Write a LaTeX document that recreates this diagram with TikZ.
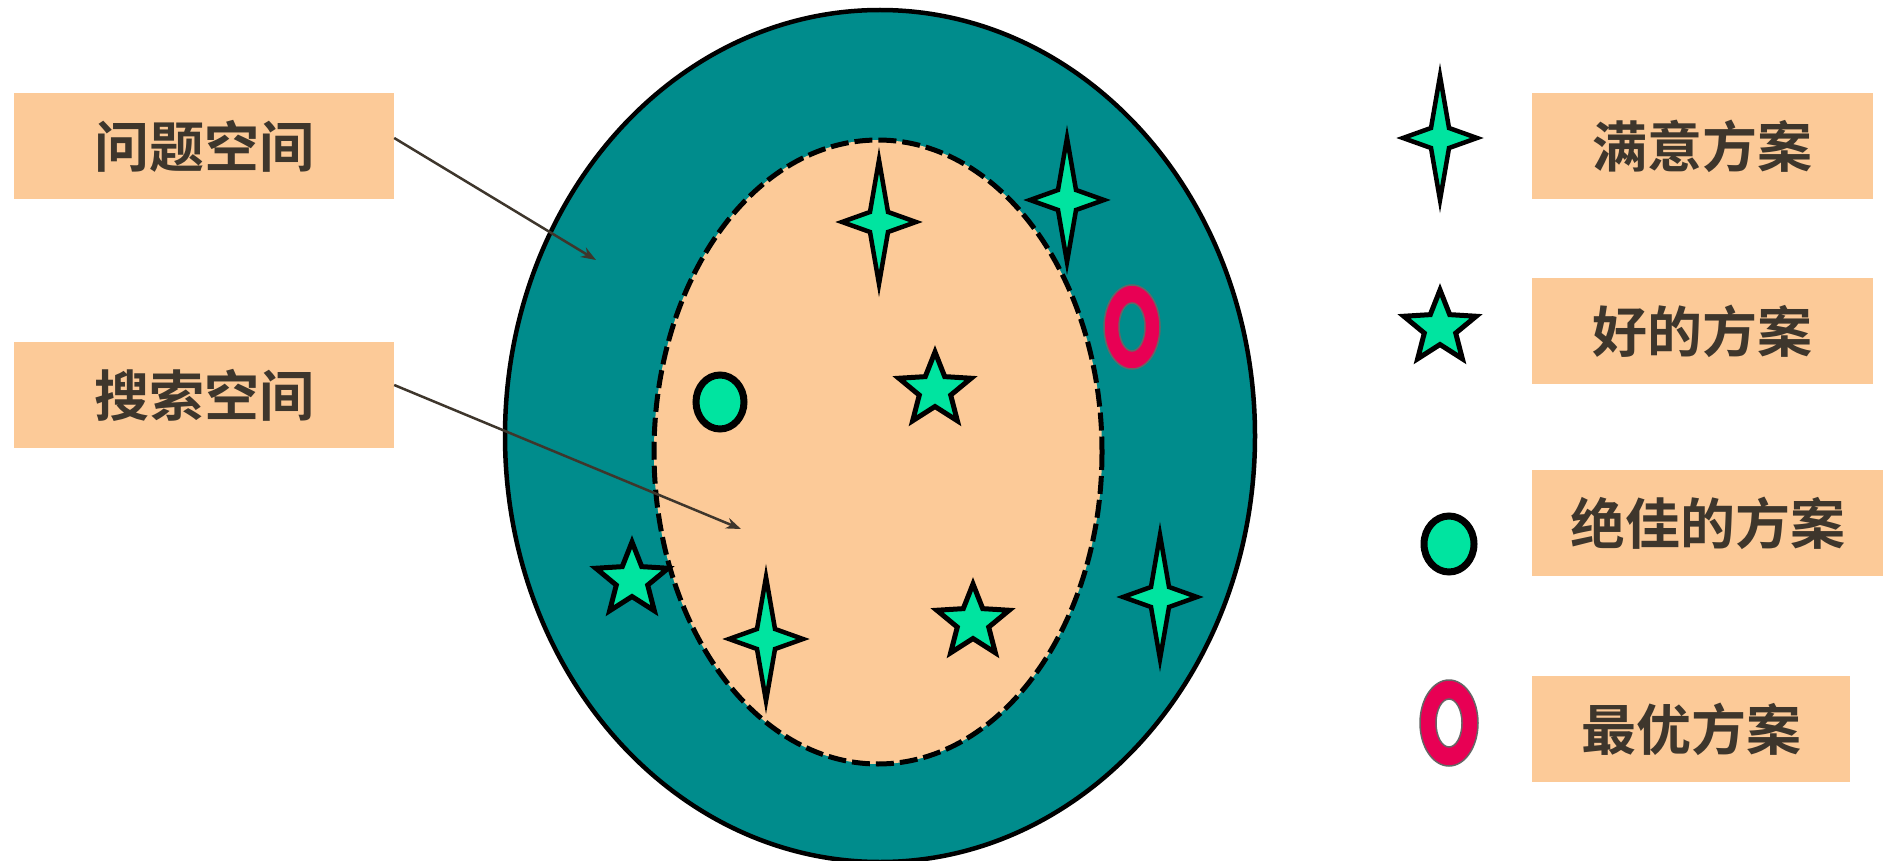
\documentclass[tikz,border=0pt]{standalone}
\usepackage{fontspec}
\newfontfamily\cjk{Noto Sans CJK SC}[BoldFont=* Bold]
\usetikzlibrary{shapes.geometric,arrows.meta}

\definecolor{sarcelle}{RGB}{0,140,140}
\definecolor{peche}{RGB}{252,202,152}
\definecolor{menthe}{RGB}{0,228,160}
\definecolor{cramoisi}{RGB}{232,0,84}
\definecolor{encre}{RGB}{62,54,44}

\tikzset{
  etiquette/.style={fill=peche, text=encre, font=\cjk\bfseries\fontsize{55}{60}\selectfont,
    minimum height=106pt, inner sep=0pt},
  etoile/.style={star, star points=5, star point ratio=2.3, minimum size=76pt,
    inner sep=0pt, fill=menthe, draw=black, line width=5pt},
  scintille/.pic={
    \filldraw[fill=menthe, draw=black, line width=4.5pt]
      (0,-62) -- (9,-10) -- (37,0) -- (9,10) -- (0,62) -- (-9,10) -- (-37,0) -- (-9,-10) -- cycle;
  },
  fleche/.style={->, draw=encre, line width=2.5pt}
}

\begin{document}
\begin{tikzpicture}[x=1pt, y=-1pt, >={Stealth[length=15pt,width=11pt]}]
    \useasboundingbox (0,0) rectangle (1883,861);

    % Espaces
    \coordinate (centre) at (880,436);
    \coordinate (noyau) at (878,452);
    \draw[fill=sarcelle, line width=4.5pt] (centre) ellipse [x radius=375, y radius=426];
    \draw[fill=peche, line width=5pt, dash pattern=on 18pt off 6pt] (noyau) ellipse [x radius=224, y radius=312];

    % Solutions dans le dessin
    \pic at (879,222) {scintille};
    \pic at (1067,200) {scintille};
    \pic at (766,639) {scintille};
    \pic at (1160,597) {scintille};
    \node[etoile] (e1) at (935,390) {};
    \node[etoile] (e2) at (632,580) {};
    \node[etoile] (e3) at (973,622) {};
    \filldraw[fill=menthe, line width=7pt] (720,402) ellipse [x radius=24, y radius=27];
    \filldraw[fill=cramoisi, draw=black!60, line width=1.5pt, even odd rule]
        (1132,327) ellipse [x radius=28, y radius=42] (1132,327) ellipse [x radius=13, y radius=24];

    % Etiquettes de gauche
    \node[etiquette, minimum width=380pt] (probleme) at (204,146) {问题空间};
    \node[etiquette, minimum width=380pt] (recherche) at (204,395) {搜索空间};
    \coordinate (bout1) at (596,260);
    \coordinate (bout2) at (741,529);
    \draw[fleche] ([yshift=8pt]probleme.east) -- (bout1);
    \draw[fleche] ([yshift=10pt]recherche.east) -- (bout2);

    % Legende
    \pic at (1440,138) {scintille};
    \node[etoile] (legetoile) at (1440,328) {};
    \filldraw[fill=menthe, line width=7pt] (1449,544) ellipse [x radius=25, y radius=28];
    \filldraw[fill=cramoisi, draw=black!60, line width=1.5pt, even odd rule]
        (1449,723) ellipse [x radius=29, y radius=43] (1449,723) ellipse [x radius=13, y radius=24];
    \node[etiquette, anchor=west, minimum width=341pt] (satisfait) at (1532,146) {满意方案};
    \node[etiquette, anchor=west, minimum width=341pt] (bon) at (1532,331) {好的方案};
    \node[etiquette, anchor=west, minimum width=351pt] (excellent) at (1532,523) {绝佳的方案};
    \node[etiquette, anchor=west, minimum width=318pt] (optimal) at (1532,729) {最优方案};

\end{tikzpicture}
\end{document}
